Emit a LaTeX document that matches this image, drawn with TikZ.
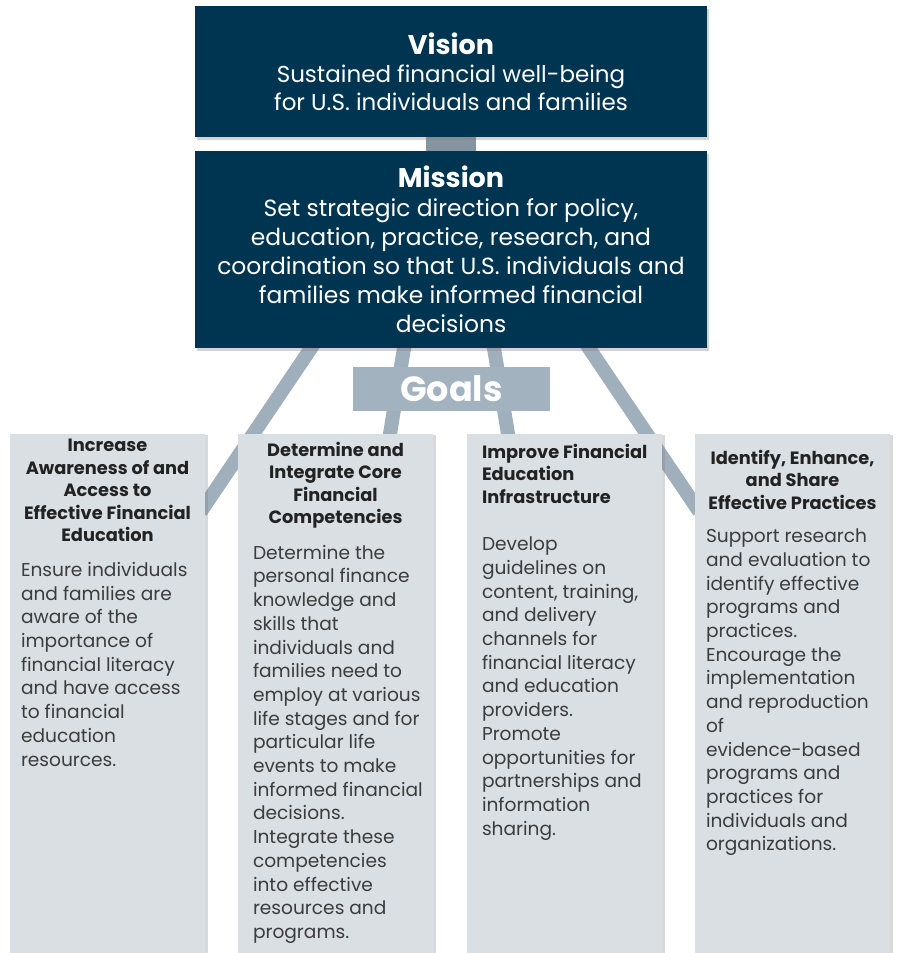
\documentclass[tikz,border=0pt]{standalone}
\usepackage{fontspec}
\setmainfont{Poppins}
\usetikzlibrary{positioning,shadows,backgrounds}
\definecolor{navy}{HTML}{003552}
\definecolor{stemgray}{HTML}{9FAFBB}
\definecolor{bargray}{HTML}{8494A0}
\definecolor{goalfill}{HTML}{D9DFE3}
\definecolor{labelfill}{HTML}{A2B2BE}
\definecolor{inktitle}{HTML}{222222}
\definecolor{inkbody}{HTML}{3C3C3C}
\tikzset{
  topbox/.style={fill=navy, text=white, minimum width=512pt, inner sep=0pt, align=center,
    drop shadow={shadow xshift=2pt, shadow yshift=-3pt, opacity=0.35}},
  goalbox/.style={fill=goalfill, minimum width=195pt, minimum height=530pt, anchor=north, inner sep=0pt,
    drop shadow={shadow xshift=3pt, shadow yshift=-1pt, opacity=0.3}},
  goaltitle/.style={font=\bfseries\fontsize{17.8}{22.5}\selectfont, text=inktitle, align=center, inner sep=0pt, anchor=north},
  goalbody/.style={font=\fontsize{18.6}{23.7}\selectfont, text=inkbody, align=left, inner sep=0pt, anchor=north west},
  stem/.style={stemgray, line width=14pt, shorten <=-8pt, shorten >=-8pt},
}
\begin{document}
\begin{tikzpicture}[x=1pt,y=-1pt]
\useasboundingbox (0,0) rectangle (897,953);
% vision and mission
\node (vision) [topbox, minimum height=131pt, font=\fontsize{23}{28}\selectfont] at (451,71.5)
  {{\fontsize{27}{30}\selectfont\bfseries Vision}\\Sustained financial well-being\\for U.S. individuals and families};
\node (mission) [topbox, minimum height=197pt, font=\fontsize{23.4}{29}\selectfont] at (451,249.5)
  {{\fontsize{27}{30}\selectfont\bfseries Mission}\\Set strategic direction for policy,\\education, practice, research, and\\coordination so that U.S. individuals and\\families make informed financial\\decisions};

% goal columns
\node (g1) [goalbox] at (107.5,434) {};
\node (g2) [goalbox] at (335.5,434) {};
\node (g3) [goalbox] at (564.5,434) {};
\node (g4) [goalbox] at (792.5,434) {};

\node (goals) [fill=labelfill, text=white, minimum width=197pt, minimum height=44pt, inner sep=0pt,
  font=\bfseries\fontsize{35}{36}\selectfont] at (451.5,389) {Goals};

\begin{scope}[on background layer]
\draw[bargray, line width=50pt] (vision.south) -- (mission.north);
\draw[stem] ([xshift=-140pt]mission.south) -- ([yshift=-71pt]g1.north east);
\draw[stem] ([xshift=-47pt]mission.south) -- ([xshift=54.5pt]g2.north);
\draw[stem] ([xshift=43pt]mission.south) -- ([xshift=-56.5pt]g3.north);
\draw[stem] ([xshift=138pt]mission.south) -- ([yshift=-71pt]g4.north west);
\end{scope}

% goal texts
\node (t1) [goaltitle] at ([yshift=-5pt]g1.north) {Increase\\Awareness of and\\Access to\\Effective Financial\\Education};
\node (b1) [goalbody] at ([xshift=11pt,yshift=-20pt]t1.south -| g1.west)
  {Ensure individuals\\and families are\\aware of the\\importance of\\financial literacy\\and have access\\to financial\\education\\resources.};

\node (t2) [goaltitle] at ([yshift=-8pt]g2.north) {Determine and\\Integrate Core\\Financial\\Competencies};
\node (b2) [goalbody] at ([xshift=15pt,yshift=-16pt]t2.south -| g2.west)
  {Determine the\\personal finance\\knowledge and\\skills that\\individuals and\\families need to\\employ at various\\life stages and for\\particular life\\events to make\\informed financial\\decisions.\\Integrate these\\competencies\\into effective\\resources and\\programs.};

\node (t3) [goaltitle, align=left, anchor=north west] at ([xshift=15pt,yshift=-10pt]g3.north west)
  {Improve Financial\\Education\\Infrastructure};
\node (b3) [goalbody] at ([xshift=15pt,yshift=-33pt]t3.south -| g3.west)
  {Develop\\guidelines on\\content, training,\\and delivery\\channels for\\financial literacy\\and education\\providers.\\Promote\\opportunities for\\partnerships and\\information\\sharing.};

\node (t4) [goaltitle] at ([yshift=-16pt]g4.north) {Identify, Enhance,\\and Share\\Effective Practices};
\node (b4) [goalbody] at ([xshift=11pt,yshift=-19pt]t4.south -| g4.west)
  {Support research\\and evaluation to\\identify effective\\programs and\\practices.\\Encourage the\\implementation\\and reproduction\\of\\evidence-based\\programs and\\practices for\\individuals and\\organizations.};
\end{tikzpicture}
\end{document}
